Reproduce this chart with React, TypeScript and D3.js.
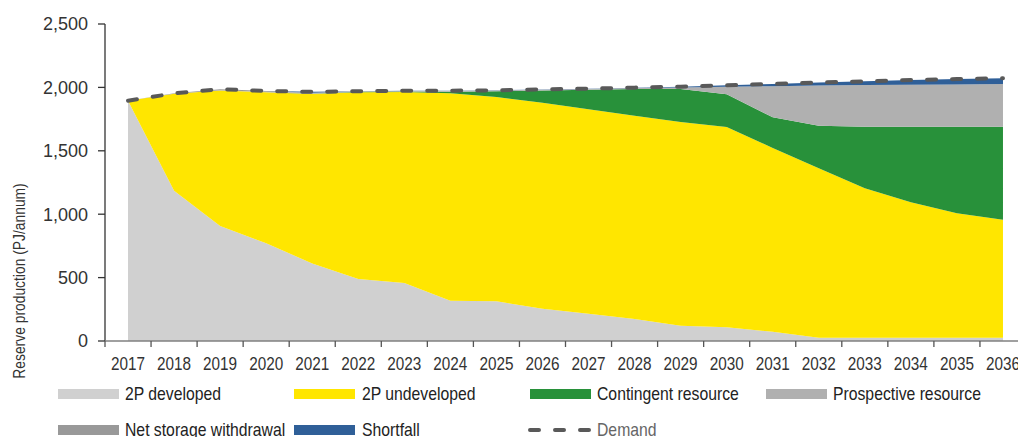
import React from "react";
import * as d3 from "d3";

const years = ["2017","2018","2019","2020","2021","2022","2023","2024","2025","2026","2027","2028","2029","2030","2031","2032","2033","2034","2035","2036"];
const developed = [1895,1185,907,770,612,489,457,318,313,255,215,173,121,108,73,26,25,25,25,25];
const undeveloped = [0,765,1068,1192,1336,1472,1507,1635,1612,1623,1613,1604,1606,1580,1449,1336,1179,1069,982,932];
const contingent = [0,0,0,0,2,5,4,13,45,98,154,210,260,257,242,336,486,596,683,733];
const prospective = [0,0,3,3,5,2,4,6,6,6,6,8,13,60,246,317,328,330,333,337];
const storage = [0,3,8,7,3,2,0,0,0,0,0,0,0,0,0,0,0,0,0,0];
const shortfall = [0,0,0,0,7,0,2,2,1,2,2,3,6,11,17,23,30,38,43,45];
const demand = [1895,1953,1986,1972,1965,1970,1974,1974,1977,1984,1990,1998,2006,2016,2027,2038,2048,2058,2066,2072];
const yTicks = [0,500,1000,1500,2000,2500];

const seriesNames = ["2P developed","2P undeveloped","Contingent resource","Prospective resource","Net storage withdrawal","Shortfall"];
const seriesKeys = ["developed","undeveloped","contingent","prospective","storage","shortfall"];
const colors = ["#d0d0d0","#ffe600","#28913a","#b0b0b0","#999999","#2f5f98"];

const FONT = "'Liberation Sans', Arial, sans-serif";

export default function App() {
  const W = 1018, H = 437;
  const x = d3.scaleBand<string>().domain(years).range([105, 105 + 46.05 * 20]).padding(0);
  const cx = (y: string) => (x(y) as number) + x.bandwidth() / 2;
  const y = d3.scaleLinear().domain([0, 2500]).range([341, 24]);

  const table = years.map((yr, i) => ({
    year: yr,
    developed: developed[i],
    undeveloped: undeveloped[i],
    contingent: contingent[i],
    prospective: prospective[i],
    storage: storage[i],
    shortfall: shortfall[i],
  }));
  const stack = d3.stack<any>().keys(seriesKeys)(table);
  const area = d3.area<any>()
    .x((d) => cx(d.data.year))
    .y0((d) => y(d[0]))
    .y1((d) => y(d[1]));
  const demandLine = d3.line<number>()
    .x((_, i) => cx(years[i]))
    .y((d) => y(d));

  const legendItems = [
    { name: seriesNames[0], color: colors[0], sx: 58, tx: 125, ly: 394 },
    { name: seriesNames[1], color: colors[1], sx: 294, tx: 362, ly: 394 },
    { name: seriesNames[2], color: colors[2], sx: 530, tx: 597, ly: 394 },
    { name: seriesNames[3], color: colors[3], sx: 766, tx: 833, ly: 394 },
    { name: seriesNames[4], color: colors[4], sx: 58, tx: 125, ly: 430 },
    { name: seriesNames[5], color: colors[5], sx: 294, tx: 362, ly: 430 },
  ];

  const boundaries = years.map((yr) => x(yr) as number);

  return (
    <svg width={W} height={H} style={{ position: "absolute", left: 0, top: 0, background: "#fff" }} fontFamily={FONT}>
      {stack.map((s, i) => (
        <path key={seriesKeys[i]} d={area(s as any) || ""} fill={colors[i]} />
      ))}
      <path d={demandLine(demand) || ""} fill="none" stroke="#595959" strokeWidth={4} strokeDasharray="9 16" strokeLinecap="round" />

      {/* Y axis */}
      <line x1={105} x2={105} y1={24} y2={341} stroke="#333" strokeWidth={1.3} />
      {yTicks.map((t) => (
        <g key={t}>
          <line x1={98} x2={105} y1={y(t)} y2={y(t)} stroke="#333" strokeWidth={1.3} />
          <text x={88} y={y(t)} dy="0.35em" textAnchor="end" fontSize={18} fill="#333">{d3.format(",")(t)}</text>
        </g>
      ))}
      <g transform="translate(25,281) rotate(-90) scale(0.84,1)">
        <text x={0} y={0} textAnchor="middle" fontSize={16.5} fill="#333">Reserve production (PJ/annum)</text>
      </g>

      {/* X axis */}
      <line x1={105} x2={W} y1={341} y2={341} stroke="#808080" strokeWidth={1.3} />
      {boundaries.map((b, i) => (
        <line key={i} x1={b} x2={b} y1={341} y2={347} stroke="#555" strokeWidth={1.3} />
      ))}
      {years.map((yr) => (
        <g key={yr} transform={`translate(${cx(yr)},364) scale(0.85,1)`}>
          <text x={0} y={0} dy="0.35em" textAnchor="middle" fontSize={18} fill="#333">{yr}</text>
        </g>
      ))}

      {/* Legend */}
      {legendItems.map((it) => (
        <g key={it.name}>
          <rect x={it.sx} y={it.ly - 5} width={61} height={10} fill={it.color} />
          <g transform={`translate(${it.tx},${it.ly}) scale(0.875,1)`}>
            <text x={0} y={0} dy="0.35em" fontSize={18} fill="#222">{it.name}</text>
          </g>
        </g>
      ))}
      <line x1={530} x2={592} y1={430} y2={430} stroke="#595959" strokeWidth={4} strokeDasharray="9 16" strokeLinecap="round" />
      <g transform="translate(597,430) scale(0.875,1)">
        <text x={0} y={0} dy="0.35em" fontSize={18} fill="#666">Demand</text>
      </g>
    </svg>
  );
}
